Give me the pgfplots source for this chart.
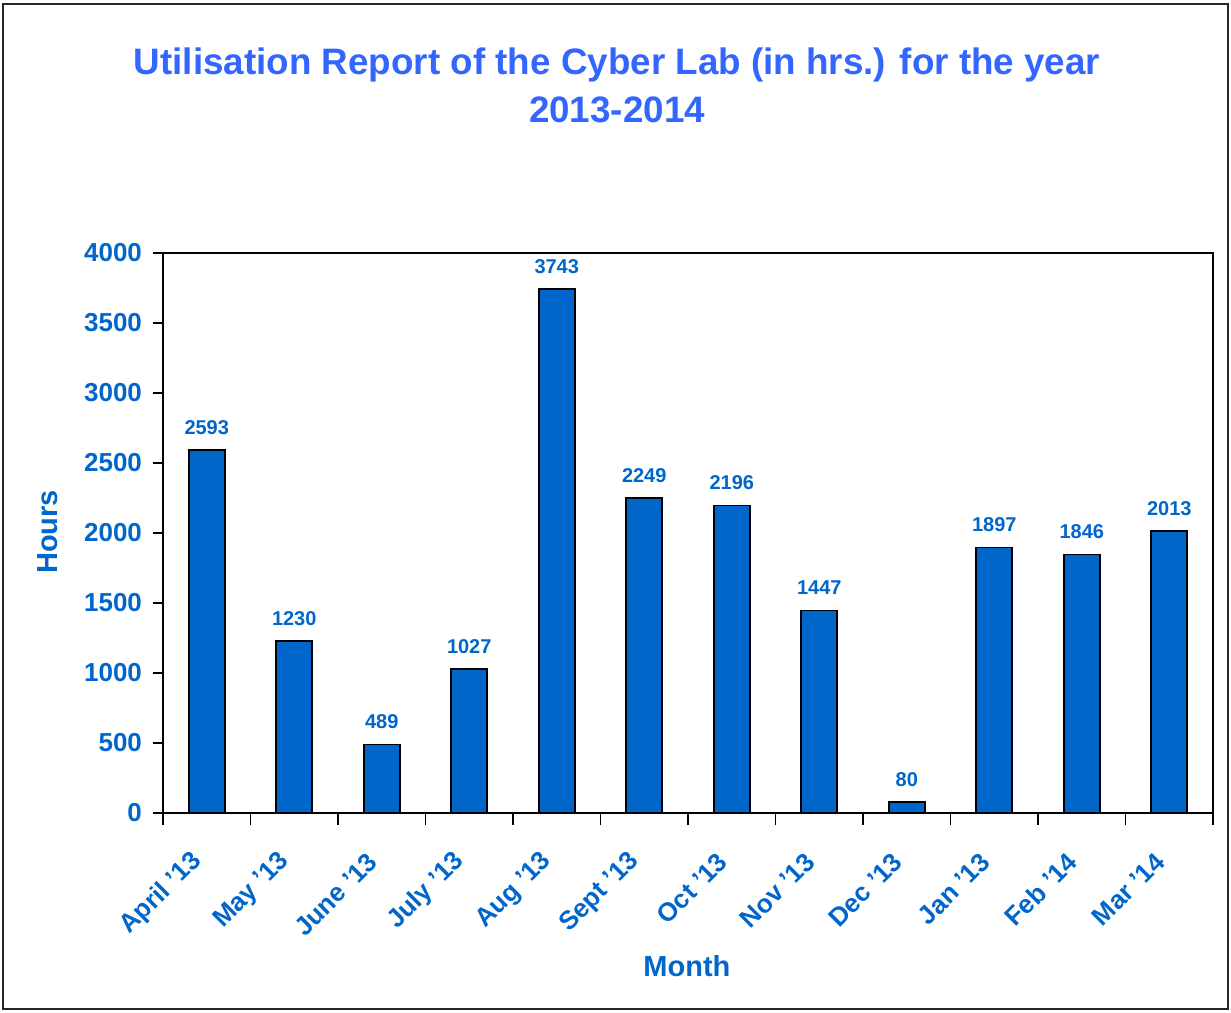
\documentclass[border=0pt]{standalone}
\usepackage{pgfplots}
\pgfplotsset{compat=1.18}
\usepackage{fontspec}
\setmainfont{Liberation Sans}
\definecolor{titleblue}{HTML}{3366FF}
\definecolor{labblue}{HTML}{0066CC}
\begin{document}
\begin{tikzpicture}[x=1pt,y=1pt]
\useasboundingbox (-81.5,-99.5) rectangle (534,406.5);
\draw[line width=1pt, black!85] (-80,-98) rectangle (532.5,404.5);
\node[align=center, font=\fontsize{18.4}{24}\selectfont\bfseries, text=titleblue] at (227,364) {Utilisation Report of the Cyber Lab (in hrs.) for the year\\2013-2014};
\begin{axis}[
  at={(0,0)}, anchor=south west,
  scale only axis, width=525pt, height=280pt,
  xmin=-0.5, xmax=11.5, ymin=0, ymax=4000,
  ytick={0,500,...,4000},
  xtick={0,...,11},
  xticklabels={April '13,May '13,June '13,July '13,Aug '13,Sept '13,Oct '13,Nov '13,Dec '13,Jan '13,Feb '14,Mar '14},
  minor xtick={-0.5,0.5,...,11.5},
  major x tick style={draw=none},
  tick align=outside, tick pos=left,
  major tick length=5pt, minor tick length=6pt,
  tick style={black, line width=0.8pt},
  axis line style={black, line width=0.8pt},
  scaled y ticks=false,
  /pgf/number format/assume math mode=true,
  /pgf/number format/1000 sep={},
  yticklabel style={font=\fontsize{13}{15}\selectfont\bfseries, text=labblue, xshift=-2pt},
  xticklabel style={font=\fontsize{13}{15}\selectfont\bfseries, text=labblue, rotate=45, anchor=east, xshift=-12pt, yshift=-9pt},
  xlabel={Month}, ylabel={Hours},
  xlabel style={font=\fontsize{14.5}{16}\selectfont\bfseries, text=labblue, at={(axis description cs:0.499,-0.273)}, anchor=center},
  ylabel style={font=\fontsize{14.5}{16}\selectfont\bfseries, text=labblue, at={(axis description cs:-0.1095,0.502)}, anchor=center},
  ybar, bar width=18pt,
  nodes near coords,
  every node near coord/.append style={font=\fontsize{10}{12}\selectfont\bfseries, text=labblue, yshift=4pt},
]
\addplot[fill=labblue, draw=black, line width=0.8pt] coordinates {
(0,2593) (1,1230) (2,489) (3,1027) (4,3743) (5,2249) (6,2196) (7,1447) (8,80) (9,1897) (10,1846) (11,2013)
};
\end{axis}
\end{tikzpicture}
\end{document}
